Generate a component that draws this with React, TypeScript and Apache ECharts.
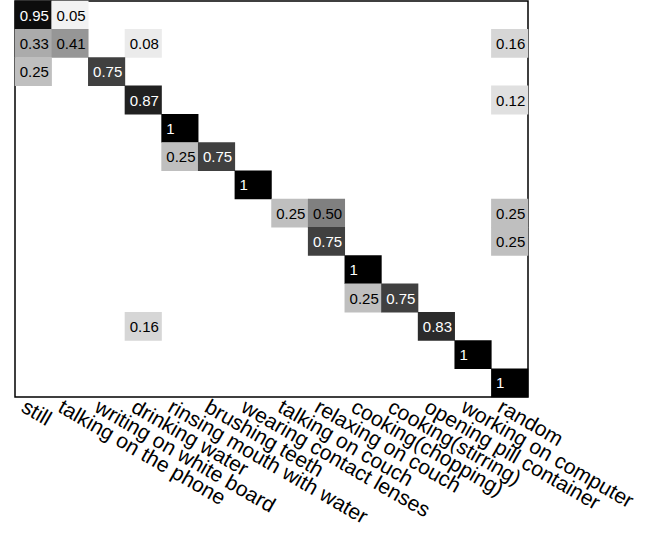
import React, { useEffect, useRef } from "react";
import * as echarts from "echarts";

const categories = [
  "still",
  "talking on the phone",
  "writing on white board",
  "drinking water",
  "rinsing mouth with water",
  "brushing teeth",
  "wearing contact lenses",
  "talking on couch",
  "relaxing on couch",
  "cooking(chopping)",
  "cooking(stirring)",
  "opening pill container",
  "working on computer",
  "random",
];

// rows = true class, columns = predicted class
const rowStill = [0.95, 0.05, 0, 0, 0, 0, 0, 0, 0, 0, 0, 0, 0, 0];
const rowPhone = [0.33, 0.41, 0, 0.08, 0, 0, 0, 0, 0, 0, 0, 0, 0, 0.16];
const rowWriting = [0.25, 0, 0.75, 0, 0, 0, 0, 0, 0, 0, 0, 0, 0, 0];
const rowDrinking = [0, 0, 0, 0.87, 0, 0, 0, 0, 0, 0, 0, 0, 0, 0.12];
const rowRinsing = [0, 0, 0, 0, 1, 0, 0, 0, 0, 0, 0, 0, 0, 0];
const rowBrushing = [0, 0, 0, 0, 0.25, 0.75, 0, 0, 0, 0, 0, 0, 0, 0];
const rowLenses = [0, 0, 0, 0, 0, 0, 1, 0, 0, 0, 0, 0, 0, 0];
const rowTalkCouch = [0, 0, 0, 0, 0, 0, 0, 0.25, 0.5, 0, 0, 0, 0, 0.25];
const rowRelaxCouch = [0, 0, 0, 0, 0, 0, 0, 0, 0.75, 0, 0, 0, 0, 0.25];
const rowChopping = [0, 0, 0, 0, 0, 0, 0, 0, 0, 1, 0, 0, 0, 0];
const rowStirring = [0, 0, 0, 0, 0, 0, 0, 0, 0, 0.25, 0.75, 0, 0, 0];
const rowPill = [0, 0, 0, 0.16, 0, 0, 0, 0, 0, 0, 0, 0.83, 0, 0];
const rowComputer = [0, 0, 0, 0, 0, 0, 0, 0, 0, 0, 0, 0, 1, 0];
const rowRandom = [0, 0, 0, 0, 0, 0, 0, 0, 0, 0, 0, 0, 0, 1];

const matrixRows = [
  rowStill, rowPhone, rowWriting, rowDrinking, rowRinsing, rowBrushing, rowLenses,
  rowTalkCouch, rowRelaxCouch, rowChopping, rowStirring, rowPill, rowComputer, rowRandom,
];

const FONT = "'Liberation Sans', Arial, Helvetica, sans-serif";

export default function App() {
  const ref = useRef<HTMLDivElement>(null);
  useEffect(() => {
    if (!ref.current) return;
    const chart = echarts.init(ref.current, null, { renderer: "svg" });
    const data: any[] = [];
    matrixRows.forEach((row, r) => {
      row.forEach((v, c) => {
        if (v > 0) {
          data.push({
            value: [c, r, v],
            label: { color: v > 0.5 ? "#ffffff" : "#000000" },
          });
        }
      });
    });
    chart.setOption({
      animation: false,
      backgroundColor: "#ffffff",
      grid: {
        left: 15,
        right: 130,
        top: 1,
        height: 396,
        show: true,
        borderColor: "#000000",
        borderWidth: 1.5,
        backgroundColor: "#ffffff",
      },
      xAxis: {
        type: "category",
        data: categories,
        position: "bottom",
        axisLine: { show: false },
        axisTick: { show: false },
        splitLine: { show: false },
        axisLabel: {
          interval: 0,
          rotate: -30,
          margin: 1,
          fontSize: 21,
          fontFamily: FONT,
          color: "#000000",
          verticalAlign: "top",
          padding: [0, 0, 0, -5],
        },
      },
      yAxis: {
        type: "category",
        data: categories,
        inverse: true,
        axisLine: { show: false },
        axisTick: { show: false },
        axisLabel: { show: false },
        splitLine: { show: false },
      },
      visualMap: {
        show: false,
        type: "continuous",
        min: 0,
        max: 1,
        dimension: 2,
        inRange: { color: ["#ffffff", "#000000"] },
      },
      series: [
        {
          type: "heatmap",
          data,
          label: {
            show: true,
            position: "insideLeft",
            distance: 5,
            fontSize: 15,
            fontFamily: FONT,
            formatter: (p: any) => {
              const v = p.value[2];
              return v === 1 ? "1" : v.toFixed(2);
            },
          },
          itemStyle: { borderWidth: 0 },
          emphasis: { disabled: true },
        },
      ],
    });
    return () => chart.dispose();
  }, []);
  return (
    <div
      ref={ref}
      style={{ position: "fixed", left: 0, top: 0, width: 658, height: 539 }}
    />
  );
}
